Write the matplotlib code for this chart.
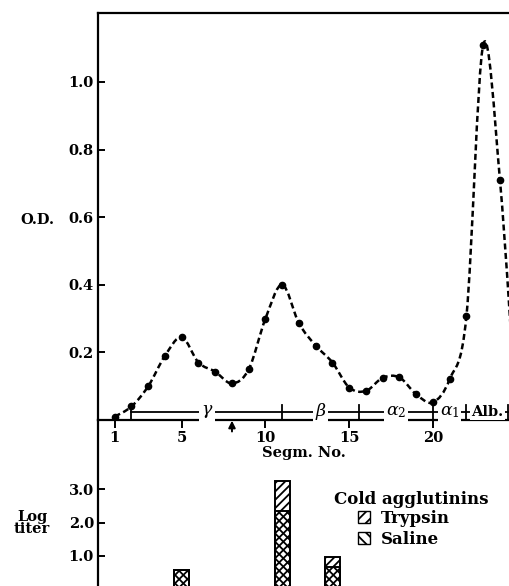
import numpy as np
import matplotlib
matplotlib.use("Agg")
import matplotlib.pyplot as plt
from matplotlib.path import Path
from matplotlib.patches import PathPatch, Patch

# ── Data ──────────────────────────────────────────────────────────────────────
segments = [1, 2, 3, 4, 5, 6, 7, 8, 9, 10, 11, 12, 13,
            14, 15, 16, 17, 18, 19, 20, 21, 22, 23, 24, 25]
od_values = [0.01, 0.04, 0.10, 0.19, 0.245, 0.17, 0.143, 0.108, 0.15, 0.30,
             0.40, 0.286, 0.22, 0.17, 0.096, 0.086, 0.125, 0.126, 0.076,
             0.052, 0.121, 0.308, 1.11, 0.71, 0.0]

od_ticks = [0.2, 0.4, 0.6, 0.8, 1.0]
seg_ticks = [1, 5, 10, 15, 20]

fraction_labels = [r"$\gamma$", r"$\beta$", r"$\alpha_2$", r"$\alpha_1$", "Alb."]
fraction_bounds = [2, 11, 15.6, 20, 22, 24.5]

arrow_segment = 8

titer_segments = [5, 11, 14]
trypsin_titer = [0.57, 3.25, 0.95]
saline_titer = [0.57, 2.35, 0.65]
titer_ticks = [1.0, 2.0, 3.0]

# ── Style ─────────────────────────────────────────────────────────────────────
W, H = 510, 586
plt.rcParams["font.family"] = ["DejaVu Serif"]
plt.rcParams["mathtext.fontset"] = "dejavuserif"
plt.rcParams["hatch.linewidth"] = 1.3
FS = 10.5


def fig_xy(x, y):
    """pixel position (from top-left) -> figure fraction"""
    return x / W, 1 - y / H


def smooth_path(x, y):
    """Catmull-Rom curve through the points, as cubic Bezier path."""
    pts = np.column_stack([x, y]).astype(float)
    padded = np.vstack([pts[0], pts, pts[-1]])
    verts = [pts[0]]
    codes = [Path.MOVETO]
    for i in range(1, len(padded) - 2):
        p0, p1, p2, p3 = padded[i - 1], padded[i], padded[i + 1], padded[i + 2]
        verts += [p1 + (p2 - p0) / 6, p2 - (p3 - p1) / 6, p2]
        codes += [Path.CURVE4] * 3
    return Path(verts, codes)


fig = plt.figure(figsize=(W / 100, H / 100), dpi=100)

# ── Upper panel: optical density ──────────────────────────────────────────────
ax = fig.add_axes([98 / W, 1 - 420 / H, (W - 98) / W, (420 - 13) / H])
ax.set_xlim(0, 24.6)
ax.set_ylim(0, 1.204)
ax.spines["right"].set_visible(False)
for s in ["left", "top", "bottom"]:
    ax.spines[s].set_linewidth(1.6)

curve = PathPatch(smooth_path(segments, od_values), fill=False, lw=1.8,
                  ls=(0, (2.4, 1.4)), color="black")
ax.add_patch(curve)
ax.plot(segments, od_values, "o", color="black", ms=4.5)

ax.set_yticks(od_ticks)
ax.set_yticklabels([f"{v:.1f}" for v in od_ticks], fontsize=FS, fontweight="bold")
ax.tick_params(axis="y", direction="in", length=5, width=1.4, pad=3)
ax.set_xticks(seg_ticks)
ax.set_xticklabels([str(v) for v in seg_ticks], fontsize=FS, fontweight="bold")
ax.tick_params(axis="x", direction="out", length=6, width=1.4, pad=2)
ax.set_xlabel("Segm. No.", fontsize=FS, fontweight="bold", labelpad=1)

# fraction brackets along the baseline
line_y = 0.0245
ax.plot([fraction_bounds[0], fraction_bounds[-1]], [line_y, line_y],
        color="black", lw=1.3)
for b in fraction_bounds:
    ax.plot([b, b], [0, 0.045], color="black", lw=1.3)
for lab, a, b in zip(fraction_labels, fraction_bounds[:-1], fraction_bounds[1:]):
    size = FS if lab == "Alb." else 12.5
    ax.text((a + b) / 2, line_y, lab, ha="center", va="center", fontsize=size,
            fontweight="bold",
            bbox=dict(boxstyle="square,pad=0.1", fc="white", ec="none"))

ax.annotate("", xy=(arrow_segment, -0.002), xytext=(arrow_segment, -0.034),
            annotation_clip=False,
            arrowprops=dict(arrowstyle="-|>", color="black", lw=1.4,
                            mutation_scale=10, shrinkA=0, shrinkB=0))

fig.text(*fig_xy(37, 220), "O.D.", ha="center", va="center",
         fontsize=FS, fontweight="bold")

# ── Lower panel: cold agglutinin titers ───────────────────────────────────────
ax2 = fig.add_axes([98 / W, 0, (W - 98) / W, 166 / H])
ax2.patch.set_visible(False)
ax2.set_xlim(0, 24.6)
ax2.set_ylim(0.09, 5.09)
for s in ["right", "top", "bottom"]:
    ax2.spines[s].set_visible(False)
ax2.spines["left"].set_linewidth(1.6)
ax2.set_xticks([])
ax2.set_yticks(titer_ticks)
ax2.set_yticklabels([f"{v:.1f}" for v in titer_ticks], fontsize=FS,
                    fontweight="bold")
ax2.tick_params(axis="y", direction="in", length=5, width=1.4, pad=3)

ax2.bar(titer_segments, trypsin_titer, width=0.88, color="white",
        edgecolor="black", lw=1.4, hatch="////")
ax2.bar(titer_segments, saline_titer, width=0.88, color="none",
        edgecolor="black", lw=1.4, hatch="\\\\\\\\")

fig.text(*fig_xy(32, 523), "Log\ntiter", ha="center", va="center",
         fontsize=FS, fontweight="bold", linespacing=0.85)

fig.text(*fig_xy(334, 500), "Cold agglutinins", ha="left", va="center",
         fontsize=12, fontweight="bold")
handles = [Patch(facecolor="white", edgecolor="black", hatch="///"),
           Patch(facecolor="white", edgecolor="black", hatch="\\\\\\")]
ax2.legend(handles, ["Trypsin", "Saline"], loc="upper left",
           bbox_to_anchor=fig_xy(358, 510), bbox_transform=fig.transFigure,
           frameon=False, prop=dict(size=12, weight="bold"),
           handlelength=0.75, handleheight=0.75,
           handletextpad=0.6, labelspacing=0.25, borderpad=0, borderaxespad=0)

fig.savefig("out.png", dpi=100)
